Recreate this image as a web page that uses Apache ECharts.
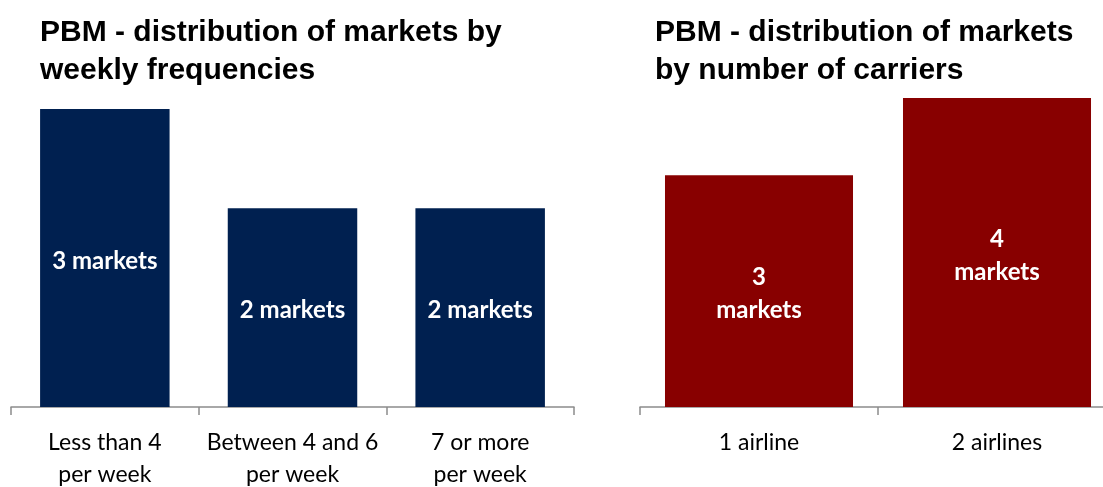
<!DOCTYPE html>
<html>
<head>
<meta charset="utf-8">
<script src="https://cdn.jsdelivr.net/npm/echarts@6/dist/echarts.min.js"></script>
<style>
  html, body { margin: 0; padding: 0; background: #fff; }
  #chart { width: 1103px; height: 487px; }
</style>
</head>
<body>
<div id="chart"></div>
<script>
// Weekly frequency distribution (left panel)
const freqCategories = ['Less than 4\nper week', 'Between 4 and 6\nper week', '7 or more\nper week'];
const freqMarkets = [3, 2, 2];

// Carrier count distribution (right panel)
const carrierCategories = ['1 airline', '2 airlines'];
const carrierMarkets = [3, 4];

const titleLeft = 'PBM - distribution of markets by\nweekly frequencies';
const titleRight = 'PBM - distribution of markets\nby number of carriers';

const NAVY = '#002050';
const MAROON = '#880000';
const BODY_FONT = 'Lato, "Open Sans", sans-serif';
const TITLE_FONT = '"Liberation Sans", Arial, sans-serif';

const chart = echarts.init(document.getElementById('chart'), null, { renderer: 'canvas' });

const titleStyle = {
  fontFamily: TITLE_FONT,
  fontWeight: 'bold',
  fontSize: 30,
  lineHeight: 38,
  color: '#000'
};

function xAxisFor(gridIndex, data) {
  return {
    type: 'category',
    gridIndex,
    data,
    axisLine: { show: true, lineStyle: { color: '#8c8c8c', width: 1.5 } },
    axisTick: { show: true, length: 8, lineStyle: { color: '#8c8c8c', width: 1.5 } },
    axisLabel: {
      color: '#000',
      fontFamily: BODY_FONT,
      fontSize: 23,
      lineHeight: 32,
      margin: 20,
      interval: 0
    }
  };
}

function yAxisFor(gridIndex, max) {
  return {
    type: 'value',
    gridIndex,
    min: 0,
    max,
    show: false,
    splitLine: { show: false }
  };
}

const barLabel = (fmt) => ({
  show: true,
  position: 'inside',
  offset: [0, 3],
  color: '#fff',
  fontFamily: BODY_FONT,
  fontWeight: 'bold',
  fontSize: 24,
  lineHeight: 33,
  formatter: fmt
});

chart.setOption({
  animation: false,
  title: [
    { text: titleLeft, left: 35, top: 9, textStyle: titleStyle },
    { text: titleRight, left: 650, top: 9, textStyle: titleStyle }
  ],
  grid: [
    { left: 11, top: 109, width: 563, height: 298, outerBoundsMode: 'none', containLabel: false },
    { left: 640, top: 98, width: 476, height: 309, outerBoundsMode: 'none', containLabel: false }
  ],
  xAxis: [xAxisFor(0, freqCategories), xAxisFor(1, carrierCategories)],
  yAxis: [yAxisFor(0, 3), yAxisFor(1, 4)],
  series: [
    {
      type: 'bar',
      xAxisIndex: 0,
      yAxisIndex: 0,
      data: freqMarkets,
      barWidth: '69%',
      itemStyle: { color: NAVY },
      label: barLabel((p) => p.value + ' markets')
    },
    {
      type: 'bar',
      xAxisIndex: 1,
      yAxisIndex: 1,
      data: carrierMarkets,
      barWidth: '79%',
      itemStyle: { color: MAROON },
      label: barLabel((p) => p.value + '\nmarkets')
    }
  ]
});
</script>
</body>
</html>
